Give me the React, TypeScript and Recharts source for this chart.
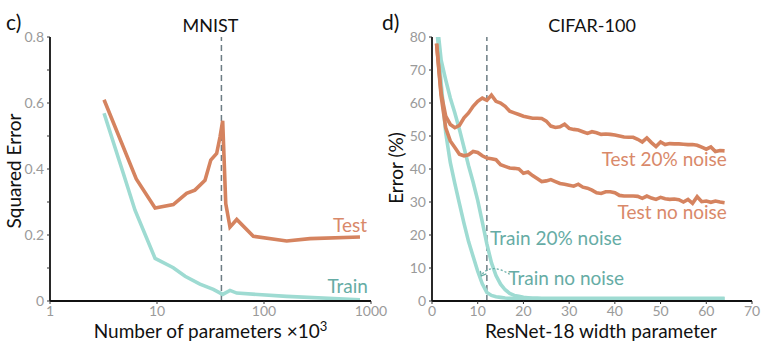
import React from 'react';
import { LineChart, Line, XAxis, YAxis, ReferenceLine, ReferenceDot } from 'recharts';

// ---------- MNIST (panel c) ----------
const mnistTestParams = [3.2, 6.4, 9.6, 14.2, 18.9, 22.6, 28.1, 31.8, 36.1, 38.8, 41.1, 43.9, 48.1, 55.6, 79.5, 163, 269, 789];
const mnistTestError = [0.61, 0.37, 0.282, 0.292, 0.326, 0.336, 0.366, 0.427, 0.447, 0.497, 0.546, 0.295, 0.224, 0.247, 0.196, 0.182, 0.189, 0.194];
const mnistTrainParams = [3.2, 4.84, 6.23, 9.6, 14.2, 18.3, 25.2, 33.6, 41.1, 48.1, 55.6, 163, 789];
const mnistTrainError = [0.569, 0.387, 0.275, 0.129, 0.101, 0.075, 0.051, 0.035, 0.02, 0.032, 0.024, 0.014, 0.004];
const mnistXTicks = [1, 10, 100, 1000];
const mnistYTicks = [0, 0.1, 0.2, 0.3, 0.4, 0.5, 0.6, 0.7, 0.8];
const mnistYLabels = [0, 0.2, 0.4, 0.6, 0.8];
const mnistThreshold = 40;

// ---------- CIFAR-100 (panel d) ----------
const cifarWidths = [
  1, 2, 3, 4, 5, 6, 7, 8, 9, 10, 11, 12, 13, 14, 15, 16, 17, 18, 19, 20, 21, 22, 23, 24, 25, 26, 27, 28, 29, 30, 31, 32,
  33, 34, 35, 36, 37, 38, 39, 40, 41, 42, 43, 44, 45, 46, 47, 48, 49, 50, 51, 52, 53, 54, 55, 56, 57, 58, 59, 60, 61, 62, 63, 64,
];
const testNoise20 = [
  78, 63, 56, 53.5, 52.5, 53.2, 55.5, 57, 59, 60.5, 61.5, 60.8, 62.4, 60.5, 60, 59, 57.5, 57, 56.5, 56, 55.7, 55.4, 55.4, 55.3,
  54.5, 53, 52.6, 52.8, 53.6, 52.3, 52, 51.8, 51.3, 50.8, 51.3, 51, 50.5, 50.6, 50.5, 50.3, 50, 49.7, 49.6, 49.6, 49, 48.2,
  49.4, 48, 46.8, 48.2, 47.4, 47.7, 47.6, 47.6, 47.5, 47.4, 47.4, 47.2, 46.6, 46, 46.7, 45.3, 45.6, 45.5,
];
const testNoNoise = [
  78, 62, 52.5, 48.5, 46.5, 44.5, 44, 44.3, 45.3, 45, 44, 43.3, 43.1, 42.8, 41.3, 40.8, 40.3, 40.2, 40, 38.7, 39.1, 38, 37.1,
  36.2, 36.4, 36.8, 36.2, 35.6, 35.4, 35.1, 34.8, 35.4, 34.5, 34.2, 33.6, 32.8, 32.6, 33.1, 33.1, 32.8, 32, 31.8, 31.8, 31.8,
  31.7, 31.1, 31.8, 31.2, 30.8, 31.4, 31, 30.8, 30.9, 30.7, 30, 30.8, 29.6, 31.6, 30.1, 30.3, 29.9, 30.3, 30, 29.8,
];
const trainNoise20 = [
  86, 73, 67, 61.5, 57, 52, 46.5, 41, 36, 30.5, 24, 17.3, 11.6, 7.7, 5.1, 3.4, 2.3, 1.7, 1.4, 1.1, 1, 0.9, 0.9, 0.8, 0.8, 0.8,
  0.8, 0.8, 0.8, 0.8, 0.8, 0.8, 0.8, 0.8, 0.8, 0.8, 0.8, 0.8, 0.8, 0.8, 0.8, 0.8, 0.8, 0.8, 0.8, 0.8, 0.8, 0.8, 0.8, 0.8,
  0.8, 0.8, 0.8, 0.8, 0.8, 0.8, 0.8, 0.8, 0.8, 0.8, 0.8, 0.8, 0.8, 0.8,
];
const trainNoNoise = [
  84, 66, 51, 42, 35.6, 29.5, 23.5, 18, 13.5, 9, 5.2, 2.6, 1.7, 1.3, 1.1, 0.9, 0.8, 0.8, 0.7, 0.7, 0.7, 0.7, 0.7, 0.7, 0.7,
  0.7, 0.7, 0.7, 0.7, 0.7, 0.7, 0.7, 0.7, 0.7, 0.7, 0.7, 0.7, 0.7, 0.7, 0.7, 0.7, 0.7, 0.7, 0.7, 0.7, 0.7, 0.7, 0.7, 0.7,
  0.7, 0.7, 0.7, 0.7, 0.7, 0.7, 0.7, 0.7, 0.7, 0.7, 0.7, 0.7, 0.7, 0.7, 0.7,
];
const arrowX = [17, 15.6, 13.8, 12.3, 11.2, 10.8];
const arrowY = [8.1, 9.1, 9.8, 9.5, 8.5, 7.6];
const cifarXTicks = [0, 10, 20, 30, 40, 50, 60, 70];
const cifarYTicks = [0, 5, 10, 15, 20, 25, 30, 35, 40, 45, 50, 55, 60, 65, 70, 75, 80];
const cifarYLabels = [0, 10, 20, 30, 40, 50, 60, 70, 80];
const cifarThreshold = 12;

// ---------- styling ----------
const ORANGE = '#d5835f';
const ORANGE_TEXT = '#d9896a';
const TEAL = '#9edbd2';
const TEAL_TEXT = '#66aca5';
const FRAME = '#111';
const TICK_FILL = '#9a9a9a';
const FONT = 'Lato, "Open Sans", sans-serif';
const TICK_FONT = '"Liberation Sans Narrow", Lato, sans-serif';

const zip = (xs: number[], ys: number[]) => xs.map((x, i) => ({ x, y: ys[i] }));

const mnistTestData = zip(mnistTestParams, mnistTestError);
const mnistTrainData = zip(mnistTrainParams, mnistTrainError);
const test20Data = zip(cifarWidths, testNoise20);
const test0Data = zip(cifarWidths, testNoNoise);
const train20Data = zip(cifarWidths, trainNoise20);
const train0Data = zip(cifarWidths, trainNoNoise);
const arrowData = zip(arrowX, arrowY);

const makeYTick = (labels: number[]) => (props: any) => {
  const { x, y, payload } = props;
  if (!labels.includes(payload.value)) return <g />;
  return (
    <text x={x} y={y} dy="0.35em" textAnchor="end" fill={TICK_FILL} fontSize={14} fontFamily={TICK_FONT}>
      {String(payload.value)}
    </text>
  );
};

const xTickStyle = { fill: TICK_FILL, fontSize: 14, fontFamily: TICK_FONT };

const annot = (value: string, color: string, position: 'left' | 'right') => ({
  value,
  position,
  offset: 0,
  fill: color,
  fontSize: 19,
  fontFamily: FONT,
});

const ArrowDot = (props: any) => {
  const { cx, cy, index } = props;
  if (index !== arrowX.length - 1) return <g key={index} />;
  return (
    <path
      key={index}
      d={`M${cx - 1},${cy - 5} L${cx},${cy} L${cx + 5},${cy - 2}`}
      fill="none"
      stroke={TEAL_TEXT}
      strokeWidth={1.2}
    />
  );
};

export default function App() {
  return (
    <div style={{ position: 'absolute', left: 0, top: 0, width: 771, height: 355, background: '#fff', fontFamily: FONT }}>
      {/* Panel c */}
      <div style={{ position: 'absolute', left: 0, top: 0 }}>
        <LineChart width={400} height={355} margin={{ top: 37, right: 29, bottom: 0, left: 0 }}>
          <XAxis
            xAxisId="b"
            type="number"
            dataKey="x"
            scale="log"
            domain={[1, 1000]}
            ticks={mnistXTicks}
            allowDataOverflow
            height={54}
            tick={xTickStyle}
            tickSize={3}
            tickMargin={2}
            axisLine={{ stroke: FRAME, strokeWidth: 1.8 }}
            tickLine={{ stroke: '#333' }}
          />
          <XAxis xAxisId="t" orientation="top" type="number" domain={[1, 1000]} scale="log" height={0} tick={false} tickLine={false} axisLine={{ stroke: FRAME, strokeWidth: 1.8 }} />
          <YAxis
            yAxisId="l"
            type="number"
            domain={[0, 0.8]}
            ticks={mnistYTicks}
            allowDataOverflow
            width={50}
            tick={makeYTick(mnistYLabels)}
            tickSize={3}
            tickMargin={3}
            axisLine={{ stroke: FRAME, strokeWidth: 1.8 }}
            tickLine={{ stroke: '#333' }}
          />
          <YAxis yAxisId="r" orientation="right" type="number" domain={[0, 0.8]} width={0} tick={false} tickLine={false} axisLine={{ stroke: FRAME, strokeWidth: 1.8 }} />
          <ReferenceLine xAxisId="b" yAxisId="l" x={mnistThreshold} stroke="#6d7d84" strokeWidth={1.5} strokeDasharray="6 4" />
          <Line xAxisId="b" yAxisId="l" data={mnistTrainData} dataKey="y" stroke={TEAL} strokeWidth={3.6} dot={false} isAnimationActive={false} type="linear" />
          <Line xAxisId="b" yAxisId="l" data={mnistTestData} dataKey="y" stroke={ORANGE} strokeWidth={3.6} dot={false} isAnimationActive={false} type="linear" />
          <ReferenceDot xAxisId="b" yAxisId="l" x={918} y={0.23} r={0} fill="none" stroke="none" label={annot('Test', ORANGE_TEXT, 'left')} />
          <ReferenceDot xAxisId="b" yAxisId="l" x={937} y={0.045} r={0} fill="none" stroke="none" label={annot('Train', TEAL_TEXT, 'left')} />
        </LineChart>
      </div>

      {/* Panel d */}
      <div style={{ position: 'absolute', left: 385, top: 0 }}>
        <LineChart width={386} height={355} margin={{ top: 37, right: 19, bottom: 0, left: 0 }}>
          <XAxis
            xAxisId="b"
            type="number"
            dataKey="x"
            domain={[0, 70]}
            ticks={cifarXTicks}
            allowDataOverflow
            height={54}
            tick={xTickStyle}
            tickSize={3}
            tickMargin={2}
            axisLine={{ stroke: FRAME, strokeWidth: 1.8 }}
            tickLine={{ stroke: '#333' }}
          />
          <XAxis xAxisId="t" orientation="top" type="number" domain={[0, 70]} height={0} tick={false} tickLine={false} axisLine={{ stroke: FRAME, strokeWidth: 1.8 }} />
          <YAxis
            yAxisId="l"
            type="number"
            domain={[0, 80]}
            ticks={cifarYTicks}
            allowDataOverflow
            width={47}
            tick={makeYTick(cifarYLabels)}
            tickSize={3}
            tickMargin={3}
            axisLine={{ stroke: FRAME, strokeWidth: 1.8 }}
            tickLine={{ stroke: '#333' }}
          />
          <YAxis yAxisId="r" orientation="right" type="number" domain={[0, 80]} width={0} tick={false} tickLine={false} axisLine={{ stroke: FRAME, strokeWidth: 1.8 }} />
          <ReferenceLine xAxisId="b" yAxisId="l" x={cifarThreshold} stroke="#6d7d84" strokeWidth={1.5} strokeDasharray="6 4" />
          <Line xAxisId="b" yAxisId="l" data={train20Data} dataKey="y" stroke={TEAL} strokeWidth={3.6} dot={false} isAnimationActive={false} type="linear" />
          <Line xAxisId="b" yAxisId="l" data={train0Data} dataKey="y" stroke={TEAL} strokeWidth={3.6} dot={false} isAnimationActive={false} type="linear" />
          <Line xAxisId="b" yAxisId="l" data={test0Data} dataKey="y" stroke={ORANGE} strokeWidth={3.6} dot={false} isAnimationActive={false} type="linear" />
          <Line xAxisId="b" yAxisId="l" data={test20Data} dataKey="y" stroke={ORANGE} strokeWidth={3.6} dot={false} isAnimationActive={false} type="linear" />
          <Line xAxisId="b" yAxisId="l" data={arrowData} dataKey="y" stroke={TEAL_TEXT} strokeWidth={1.3} strokeDasharray="2 2" dot={ArrowDot} activeDot={false} isAnimationActive={false} type="natural" />
          <ReferenceDot xAxisId="b" yAxisId="l" x={64.5} y={43} r={0} fill="none" stroke="none" label={annot('Test 20% noise', ORANGE_TEXT, 'left')} />
          <ReferenceDot xAxisId="b" yAxisId="l" x={64.5} y={26.8} r={0} fill="none" stroke="none" label={annot('Test no noise', ORANGE_TEXT, 'left')} />
          <ReferenceDot xAxisId="b" yAxisId="l" x={12.7} y={18.9} r={0} fill="none" stroke="none" label={annot('Train 20% noise', TEAL_TEXT, 'right')} />
          <ReferenceDot xAxisId="b" yAxisId="l" x={16.7} y={6.8} r={0} fill="none" stroke="none" label={annot('Train no noise', TEAL_TEXT, 'right')} />
        </LineChart>
      </div>

      {/* Titles and axis labels */}
      <svg width={771} height={355} style={{ position: 'absolute', left: 0, top: 0, pointerEvents: 'none' }} fontFamily={FONT}>
        <text x={6} y={30} fontSize={21} fill="#111">c)</text>
        <text x={210.5} y={32} fontSize={18} fill="#111" textAnchor="middle">MNIST</text>
        <text x={382} y={30} fontSize={21} fill="#111">d)</text>
        <text x={592} y={32} fontSize={18} fill="#111" textAnchor="middle">CIFAR-100</text>
        <text transform="translate(21,171) rotate(-90)" fontSize={19} fill="#111" textAnchor="middle">Squared Error</text>
        <text transform="translate(403,168) rotate(-90)" fontSize={19} fill="#111" textAnchor="middle">Error (%)</text>
        <text x={210.5} y={338} fontSize={19} fill="#111" textAnchor="middle">
          Number of parameters ×10<tspan dy={-7} fontSize={13}>3</tspan>
        </text>
        <text x={601} y={338} fontSize={19} fill="#111" textAnchor="middle">ResNet-18 width parameter</text>
      </svg>
    </div>
  );
}
